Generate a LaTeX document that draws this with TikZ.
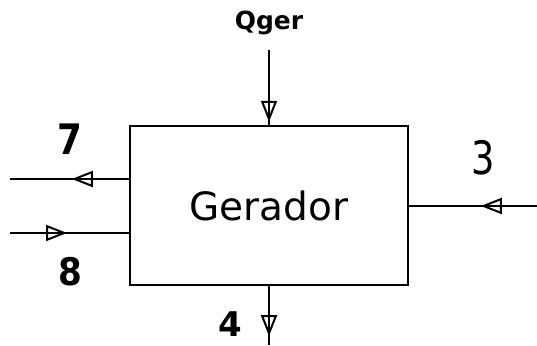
\documentclass[tikz,border=0pt]{standalone}
\usepackage{fontspec}
\setmainfont{DejaVu Sans}
\usetikzlibrary{arrows.meta,decorations.markings}
\begin{document}
\begin{tikzpicture}[x=1pt,y=1pt,
  flow/.style={line width=2.4pt},
  midarrow/.style={postaction={decorate},decoration={markings,
     mark=at position #1 with {\arrow{Triangle[open,length=21pt,width=16pt,line width=2pt]}}}},
  lbl/.style={inner sep=0pt}]
\useasboundingbox (0,0) rectangle (537,345);
\node[draw, line width=2.4pt, minimum width=278pt, minimum height=159pt, inner sep=0pt,
      font=\fontsize{39}{39}\selectfont] (ger) at (269,139.5) {Gerador};
\coordinate (q0) at (269,295);
\coordinate (e7) at (10,166);
\coordinate (s8) at (10,112);
\coordinate (s3) at (537,139);
\coordinate (e4) at (269,0);
\node[font=\fontsize{25}{25}\selectfont\bfseries, inner sep=0pt] (qger) at (269,322) {Qger};
\draw[flow, midarrow=0.96] (q0) -- (q0 |- ger.north);
\draw[flow, midarrow=0.48] (ger.west |- e7) -- (e7);
\draw[flow, midarrow=0.48] (s8) -- (ger.west |- s8);
\draw[flow, midarrow=0.44] (s3) -- (ger.east |- s3);
\draw[flow, midarrow=0.85] (ger.south -| e4) -- (e4);
\node[lbl, font=\fontsize{42}{42}\selectfont\bfseries] (n7) at (70,206) {\scalebox{0.85}[1]{7}};
\node[lbl, font=\fontsize{38}{38}\selectfont\bfseries] (n8) at (70,73) {\scalebox{0.9}[1]{8}};
\node[lbl, font=\fontsize{48}{48}\selectfont] (n3) at (483,187) {\scalebox{0.8}[1]{\textbf{\fontsize{46}{46}\selectfont\mdseries 3}}};
\node[lbl, font=\fontsize{34}{34}\selectfont\bfseries] (n4) at (230,21) {4};
\end{tikzpicture}
\end{document}
